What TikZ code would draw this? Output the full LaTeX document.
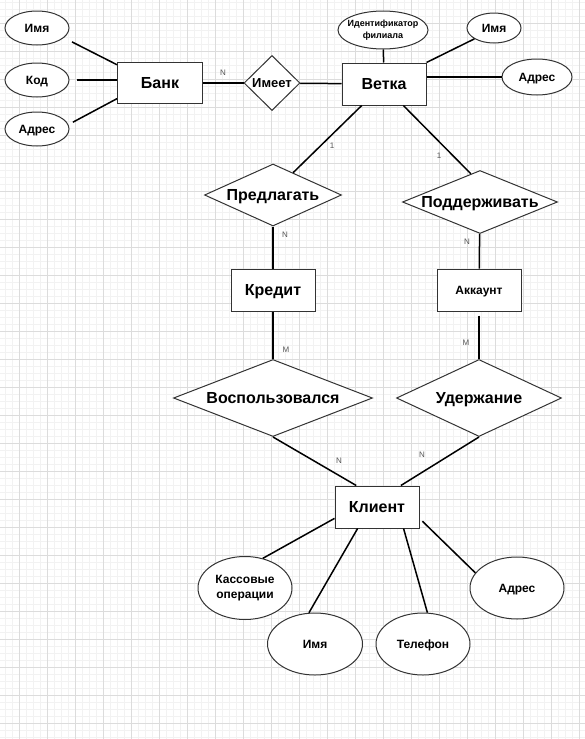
\documentclass[tikz,border=0pt]{standalone}
\usepackage{fontspec}
\setmainfont{Liberation Sans}
\usetikzlibrary{shapes.geometric}
\definecolor{gridmaj}{HTML}{DCDCDC}
\definecolor{gridmin}{HTML}{F2F2F2}
\definecolor{shapec}{HTML}{333333}
\definecolor{cardc}{HTML}{555555}

\begin{document}
\begin{tikzpicture}[x=1pt, y=-1pt, line width=1.5pt,
  ent/.style={draw=shapec, line width=1pt, fill=white, minimum width=84, minimum height=42, inner sep=0pt, text height=11.5pt, text depth=0pt, font=\fontsize{16}{19}\selectfont\bfseries},
  attr/.style={ellipse, draw=shapec, line width=1pt, fill=white, inner sep=0pt, align=center, font=\fontsize{12}{15}\selectfont\bfseries},
  word/.style={text height=8.6pt, text depth=0pt},
  rel/.style={diamond, draw=shapec, line width=1pt, fill=white, inner sep=0pt, text height=11.5pt, text depth=0pt, font=\fontsize{16}{19}\selectfont\bfseries},
  card/.style={font=\fontsize{8}{9}\selectfont, text=cardc, inner sep=0pt}]

\useasboundingbox (0,0) rectangle (585,739);
\fill[white] (0,0) rectangle (585,739);
\foreach \i in {0,...,83}
	\draw[gridmin, line width=0.6pt] ({5.3+7*\i},0) -- ({5.3+7*\i},739);
\foreach \i in {0,...,105}
	\draw[gridmin, line width=0.6pt] (0,{2.3+7*\i}) -- (585,{2.3+7*\i});
\foreach \i in {0,...,20}
	\draw[gridmaj, line width=0.8pt] ({19.3+28*\i},0) -- ({19.3+28*\i},739);
\foreach \i in {0,...,25}
	\draw[gridmaj, line width=0.8pt] (0,{23.3+28*\i}) -- (585,{23.3+28*\i});

\node[attr, word, minimum width=64, minimum height=34] (a1) at (37,28) {Имя};
\node[attr, word, minimum width=64, minimum height=34] (a2) at (37,80) {Код};
\node[attr, word, minimum width=64, minimum height=34] (a3) at (37,129) {Адрес};
\node[ent, minimum width=85, minimum height=41] (br) at (160,83) {Банк};
\node[rel, minimum width=56, minimum height=55, aspect=1.02, text height=9.3pt, font=\fontsize{13}{15}\selectfont\bfseries] (rel1) at (272,83) {Имеет};
\node[ent] (vt) at (384,84) {Ветка};
\node[attr, minimum width=90, minimum height=38, inner xsep=-12pt, font=\fontsize{9}{12}\selectfont\bfseries] (b1) at (383,30) {Идентификатор\\филиала};
\node[attr, word, minimum width=54, minimum height=30] (b2) at (494,28) {Имя};
\node[attr, word, minimum width=70, minimum height=36] (b3) at (537,77) {Адрес};

\node[rel, minimum width=137, minimum height=62, aspect=2.21] (rel2) at (273,195) {Предлагать};
\node[rel, minimum width=155, minimum height=63, aspect=2.46] (rel3) at (480,202) {Поддерживать};
\node[ent] (kr) at (273,290) {Кредит};
\node[ent, word, font=\fontsize{12}{14}\selectfont\bfseries] (ak) at (479,290) {Аккаунт};
\node[rel, minimum width=199, minimum height=77, aspect=2.58] (rel4) at (273,398) {Воспользовался};
\node[rel, minimum width=165, minimum height=77, aspect=2.14] (rel5) at (479,398) {Удержание};

\node[ent] (kl) at (377,507) {Клиент};
\node[attr, minimum width=94, minimum height=63, inner xsep=-14pt] (c1) at (245,588) {Кассовые\\операции};
\node[attr, word, minimum width=95, minimum height=62] (c2) at (315,644) {Имя};
\node[attr, word, minimum width=94, minimum height=62] (c3) at (423,644) {Телефон};
\node[attr, word, minimum width=94, minimum height=62] (c4) at (517,588) {Адрес};

\draw[shorten <=9pt] (a1.-20) -- (br.157);
\draw[shorten <=7pt] (a2.east) -- (a2.east -| br.west);
\draw[shorten <=5pt] (a3.8) -- (br.200);
\draw (br) -- (rel1);
\draw (rel1) -- (vt);
\draw (b1) -- (vt);
\draw (b2.209) -- (vt.north east);
\draw (vt.east |- b3.west) -- (b3.west);
\draw (vt.224) -- (rel2.48);
\draw (vt.-48) -- (rel3.108);
\draw (rel2) -- (kr);
\draw (rel3) -- (ak);
\draw (kr) -- (rel4);
\draw[shorten <=4pt] (ak) -- (rel5);
\draw (rel4.south) -- (kl.134);
\draw (rel5.south) -- (kl.42);
\draw (kl.195) -- (c1.59);
\draw (kl.228) -- (c2.101);
\draw (kl.-39) -- (c3.82);
\draw[shorten <=4pt] (kl.-15) -- (c4.160);

\node[card] (n1) at (223,73) {N};
\node[card] (n2) at (332,146) {1};
\node[card] (n3) at (439,156) {1};
\node[card] (n4) at (285,235) {N};
\node[card] (n5) at (467,242) {N};
\node[card] (n6) at (286,350) {M};
\node[card] (n7) at (466,343) {M};
\node[card] (n8) at (339,461) {N};
\node[card] (n9) at (422,455) {N};

\end{tikzpicture}
\end{document}
